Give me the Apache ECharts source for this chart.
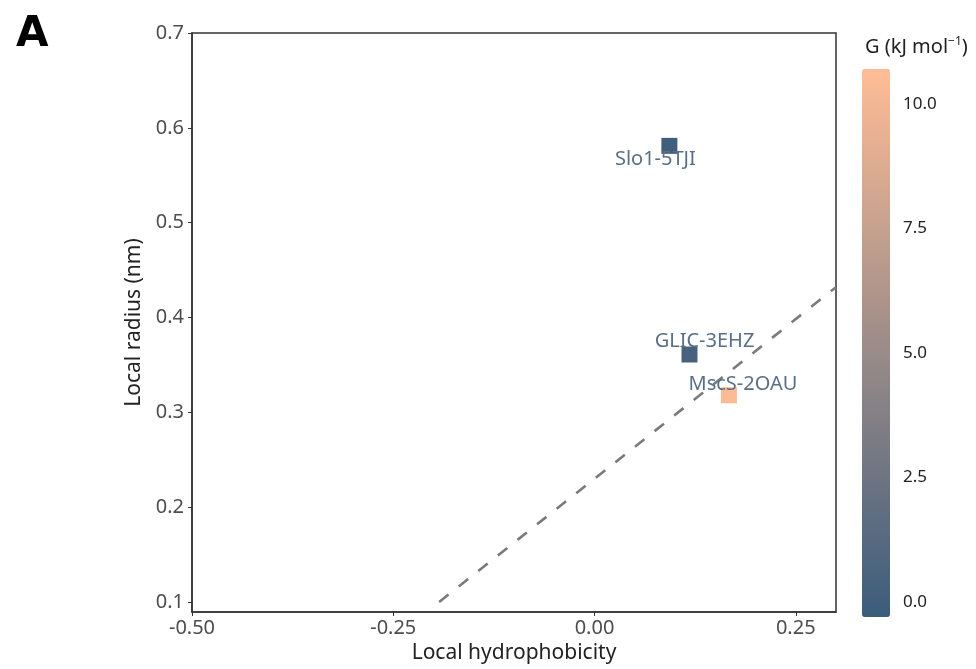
<!DOCTYPE html>
<html><head><meta charset="utf-8">
<script src="https://cdn.jsdelivr.net/npm/echarts@6/dist/echarts.min.js"></script>
<style>html,body{margin:0;padding:0;background:#fff}#c{width:976px;height:669px}</style>
</head><body><div id="c"></div>
<script>
// ---- data ----
const names = ['Slo1-5TJI', 'GLIC-3EHZ', 'MscS-2OAU'];
const hydrophobicity = [0.093, 0.118, 0.167];
const radius = [0.581, 0.361, 0.318];
const energyG = [0.0, 0.4, 10.5];
const refLineX = [-0.193, 0.30];
const refLineY = [0.100, 0.432];
const yTicks = [0.1, 0.2, 0.3, 0.4, 0.5, 0.6, 0.7];
const cbTicks = [0, 2.5, 5, 7.5, 10];

// ---- layout/style ----
const labelOffsets = {'Slo1-5TJI': [-14, 13], 'GLIC-3EHZ': [15, -13], 'MscS-2OAU': [14, -11]};
const FONT = 'Noto Sans';
const tickColor = '#4d4d4d';

const pts = names.map((n, i) => ({
  name: n,
  value: [hydrophobicity[i], radius[i], energyG[i]],
  label: {offset: labelOffsets[n]}
}));

const chart = echarts.init(document.getElementById('c'));
chart.setOption({
  backgroundColor: '#fff',
  animation: false,
  textStyle: {fontFamily: FONT},
  title: [{
    text: 'A', left: 11, top: 9,
    textStyle: {fontSize: 42, fontWeight: 'bold', color: '#000', fontFamily: 'DejaVu Sans'}
  }, {
    text: '{a|G (kJ mol}{s|−1}{a|)}', left: 860, top: 31,
    textStyle: {rich: {
      a: {fontSize: 20, color: '#222', fontFamily: FONT, fontWeight: 'normal'},
      s: {fontSize: 12, color: '#222', fontFamily: FONT, fontWeight: 'normal', verticalAlign: 'top', padding: [0, 0, 10, 0]}
    }}
  }],
  grid: [
    {left: 192, right: 140, top: 33, bottom: 56, show: true, borderColor: '#333', borderWidth: 1.5},
    {left: 862, top: 69, width: 28, height: 548, show: false}
  ],
  xAxis: [{
    type: 'value', gridIndex: 0, min: -0.5, max: 0.30, interval: 0.25,
    name: 'Local hydrophobicity', nameLocation: 'middle', nameGap: 31,
    nameTextStyle: {fontSize: 21, color: '#222', fontFamily: FONT},
    axisLine: {show: true, onZero: false, lineStyle: {color: '#333', width: 1.5}},
    axisTick: {show: true, length: 4, lineStyle: {color: '#333'}},
    axisLabel: {fontSize: 20, color: tickColor, margin: 6, showMaxLabel: false,
      formatter: v => v.toFixed(2)},
    splitLine: {show: false}
  }, {
    type: 'value', gridIndex: 1, show: false, min: 0, max: 1
  }],
  yAxis: [{
    type: 'value', gridIndex: 0, min: 0.0895, max: 0.7,
    name: 'Local radius (nm)', nameLocation: 'middle', nameGap: 43,
    nameTextStyle: {fontSize: 21, color: '#222', fontFamily: FONT},
    axisLine: {show: true, onZero: false, lineStyle: {color: '#333', width: 1.5}},
    axisTick: {show: true, length: 4, customValues: yTicks, lineStyle: {color: '#333'}},
    axisLabel: {fontSize: 20, color: tickColor, margin: 8, customValues: yTicks,
      formatter: v => v.toFixed(1)},
    splitLine: {show: false}
  }, {
    type: 'value', gridIndex: 1, position: 'right', min: -0.3, max: 10.7,
    axisLine: {show: false},
    axisTick: {show: true, inside: true, length: 5, customValues: cbTicks, lineStyle: {color: '#fff', width: 1}},
    axisLabel: {fontSize: 17, color: '#222', margin: 13, customValues: cbTicks,
      formatter: v => v.toFixed(1)},
    splitLine: {show: false}
  }, {
    type: 'value', gridIndex: 1, position: 'left', min: -0.3, max: 10.7,
    axisLine: {show: false},
    axisTick: {show: true, inside: true, length: 5, customValues: cbTicks, lineStyle: {color: '#fff', width: 1}},
    axisLabel: {show: false},
    splitLine: {show: false}
  }],
  visualMap: {
    type: 'continuous', seriesIndex: 0, dimension: 2,
    min: -0.3, max: 10.7, left: 862, top: 69, padding: 0,
    itemWidth: 28, itemHeight: 548, calculable: false, text: null, showLabel: false,
    inRange: {color: ['#3b5c7c', '#ffbd95']}, z: 1
  },
  series: [{
    type: 'scatter', xAxisIndex: 0, yAxisIndex: 0, symbol: 'rect', symbolSize: 16,
    data: pts, z: 5, itemStyle: {opacity: 1},
    label: {show: true, position: 'inside', formatter: p => p.name,
      fontSize: 20, color: '#5b6f84', fontFamily: FONT}
  }, {
    type: 'line', xAxisIndex: 0, yAxisIndex: 0, symbol: 'none', z: 3,
    data: refLineX.map((x, i) => [x, refLineY[i]]),
    lineStyle: {color: '#7a7a7a', width: 2.6, type: [12, 13]}
  }, {
    type: 'scatter', xAxisIndex: 1, yAxisIndex: 1, data: [], silent: true
  }]
});
</script></body></html>
